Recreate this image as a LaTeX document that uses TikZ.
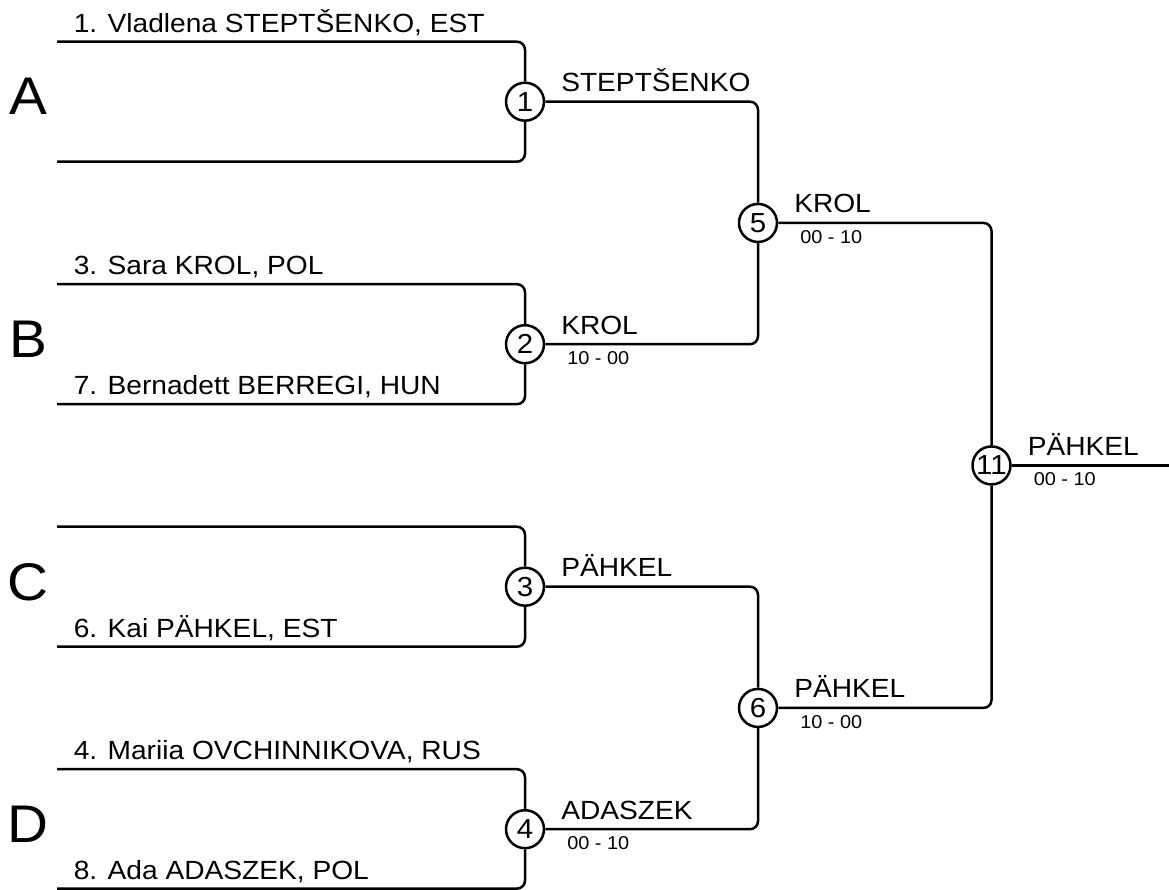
\documentclass[tikz,border=0pt]{standalone}
\usepackage{fontspec}
\setmainfont[FakeStretch=1.07]{Liberation Sans}
\begin{document}
\begin{tikzpicture}[x=1pt,y=-1pt,line width=2.5pt,
  match/.style={circle,draw,minimum size=38pt,inner sep=0pt,font=\fontsize{27.5}{30}\selectfont},
  conn/.style={rounded corners=8pt},
  player/.style={anchor=base west,inner sep=0pt,font=\fontsize{26.3}{30}\selectfont},
  winner/.style={anchor=base west,inner sep=0pt,font=\fontsize{26.3}{30}\selectfont},
  score/.style={anchor=base west,inner sep=0pt,font=\fontsize{18.6}{22}\selectfont},
  group/.style={anchor=base,inner sep=0pt,font=\fontsize{53}{60}\selectfont}]
\useasboundingbox (0,0) rectangle (1169,890);
% matches
\node[match] (m1) at (525,101.7) {1};
\node[match] (m2) at (525,344.2) {2};
\node[match] (m3) at (525,586.7) {3};
\node[match] (m4) at (525,829.2) {4};
\node[match] (m5) at (758,222.95) {5};
\node[match] (m6) at (758,707.95) {6};
\node[match] (m11) at (991.5,465.45) {11};
% line ends
\coordinate (a1) at (57,41.7);
\coordinate (a2) at (57,161.7);
\coordinate (b1) at (57,284.2);
\coordinate (b2) at (57,404.2);
\coordinate (c1) at (57,526.7);
\coordinate (c2) at (57,646.7);
\coordinate (d1) at (57,769.2);
\coordinate (d2) at (57,888.6);
\coordinate (fin) at (1169,465.45);
% connectors
\draw[conn] (a1) -| (m1.north);
\draw[conn] (a2) -| (m1.south);
\draw[conn] (b1) -| (m2.north);
\draw[conn] (b2) -| (m2.south);
\draw[conn] (c1) -| (m3.north);
\draw[conn] (c2) -| (m3.south);
\draw[conn] (d1) -| (m4.north);
\draw[conn] (d2) -| (m4.south);
\draw[conn] (m1.east) -| (m5.north);
\draw[conn] (m2.east) -| (m5.south);
\draw[conn] (m3.east) -| (m6.north);
\draw[conn] (m4.east) -| (m6.south);
\draw[conn] (m5.east) -| (m11.north);
\draw[conn] (m6.east) -| (m11.south);
\draw (m11.east) -- (fin);
% group letters
\node[group] (gA) at (28,115) {A};
\node[group] (gB) at (28,357.5) {B};
\node[group] (gC) at (28,600) {C};
\node[group] (gD) at (28,842.5) {D};
% players
\node[player] (p1) at (72.5,32.2) {1. Vladlena STEPTŠENKO, EST};
\node[player] (p3) at (72.5,274.7) {3. Sara KROL, POL};
\node[player] (p7) at (72.5,394.7) {7. Bernadett BERREGI, HUN};
\node[player] (p6) at (72.5,637.2) {6. Kai PÄHKEL, EST};
\node[player] (p4) at (72.5,759.7) {4. Mariia OVCHINNIKOVA, RUS};
\node[player] (p8) at (72.5,879.1) {8. Ada ADASZEK, POL};
% winners
\node[winner] (w1) at (560,91.7) {STEPTŠENKO};
\node[winner] (w2) at (560,334.2) {KROL};
\node[score] (s2) at (566,364.7) {10 - 00};
\node[winner] (w3) at (560,576.7) {PÄHKEL};
\node[winner] (w4) at (560,819.2) {ADASZEK};
\node[score] (s4) at (566,849.7) {00 - 10};
\node[winner] (w5) at (793,212.95) {KROL};
\node[score] (s5) at (799,243.45) {00 - 10};
\node[winner] (w6) at (793,697.95) {PÄHKEL};
\node[score] (s6) at (799,728.45) {10 - 00};
\node[winner] (w11) at (1026.5,455.45) {PÄHKEL};
\node[score] (s11) at (1032.5,485.95) {00 - 10};
\end{tikzpicture}
\end{document}
